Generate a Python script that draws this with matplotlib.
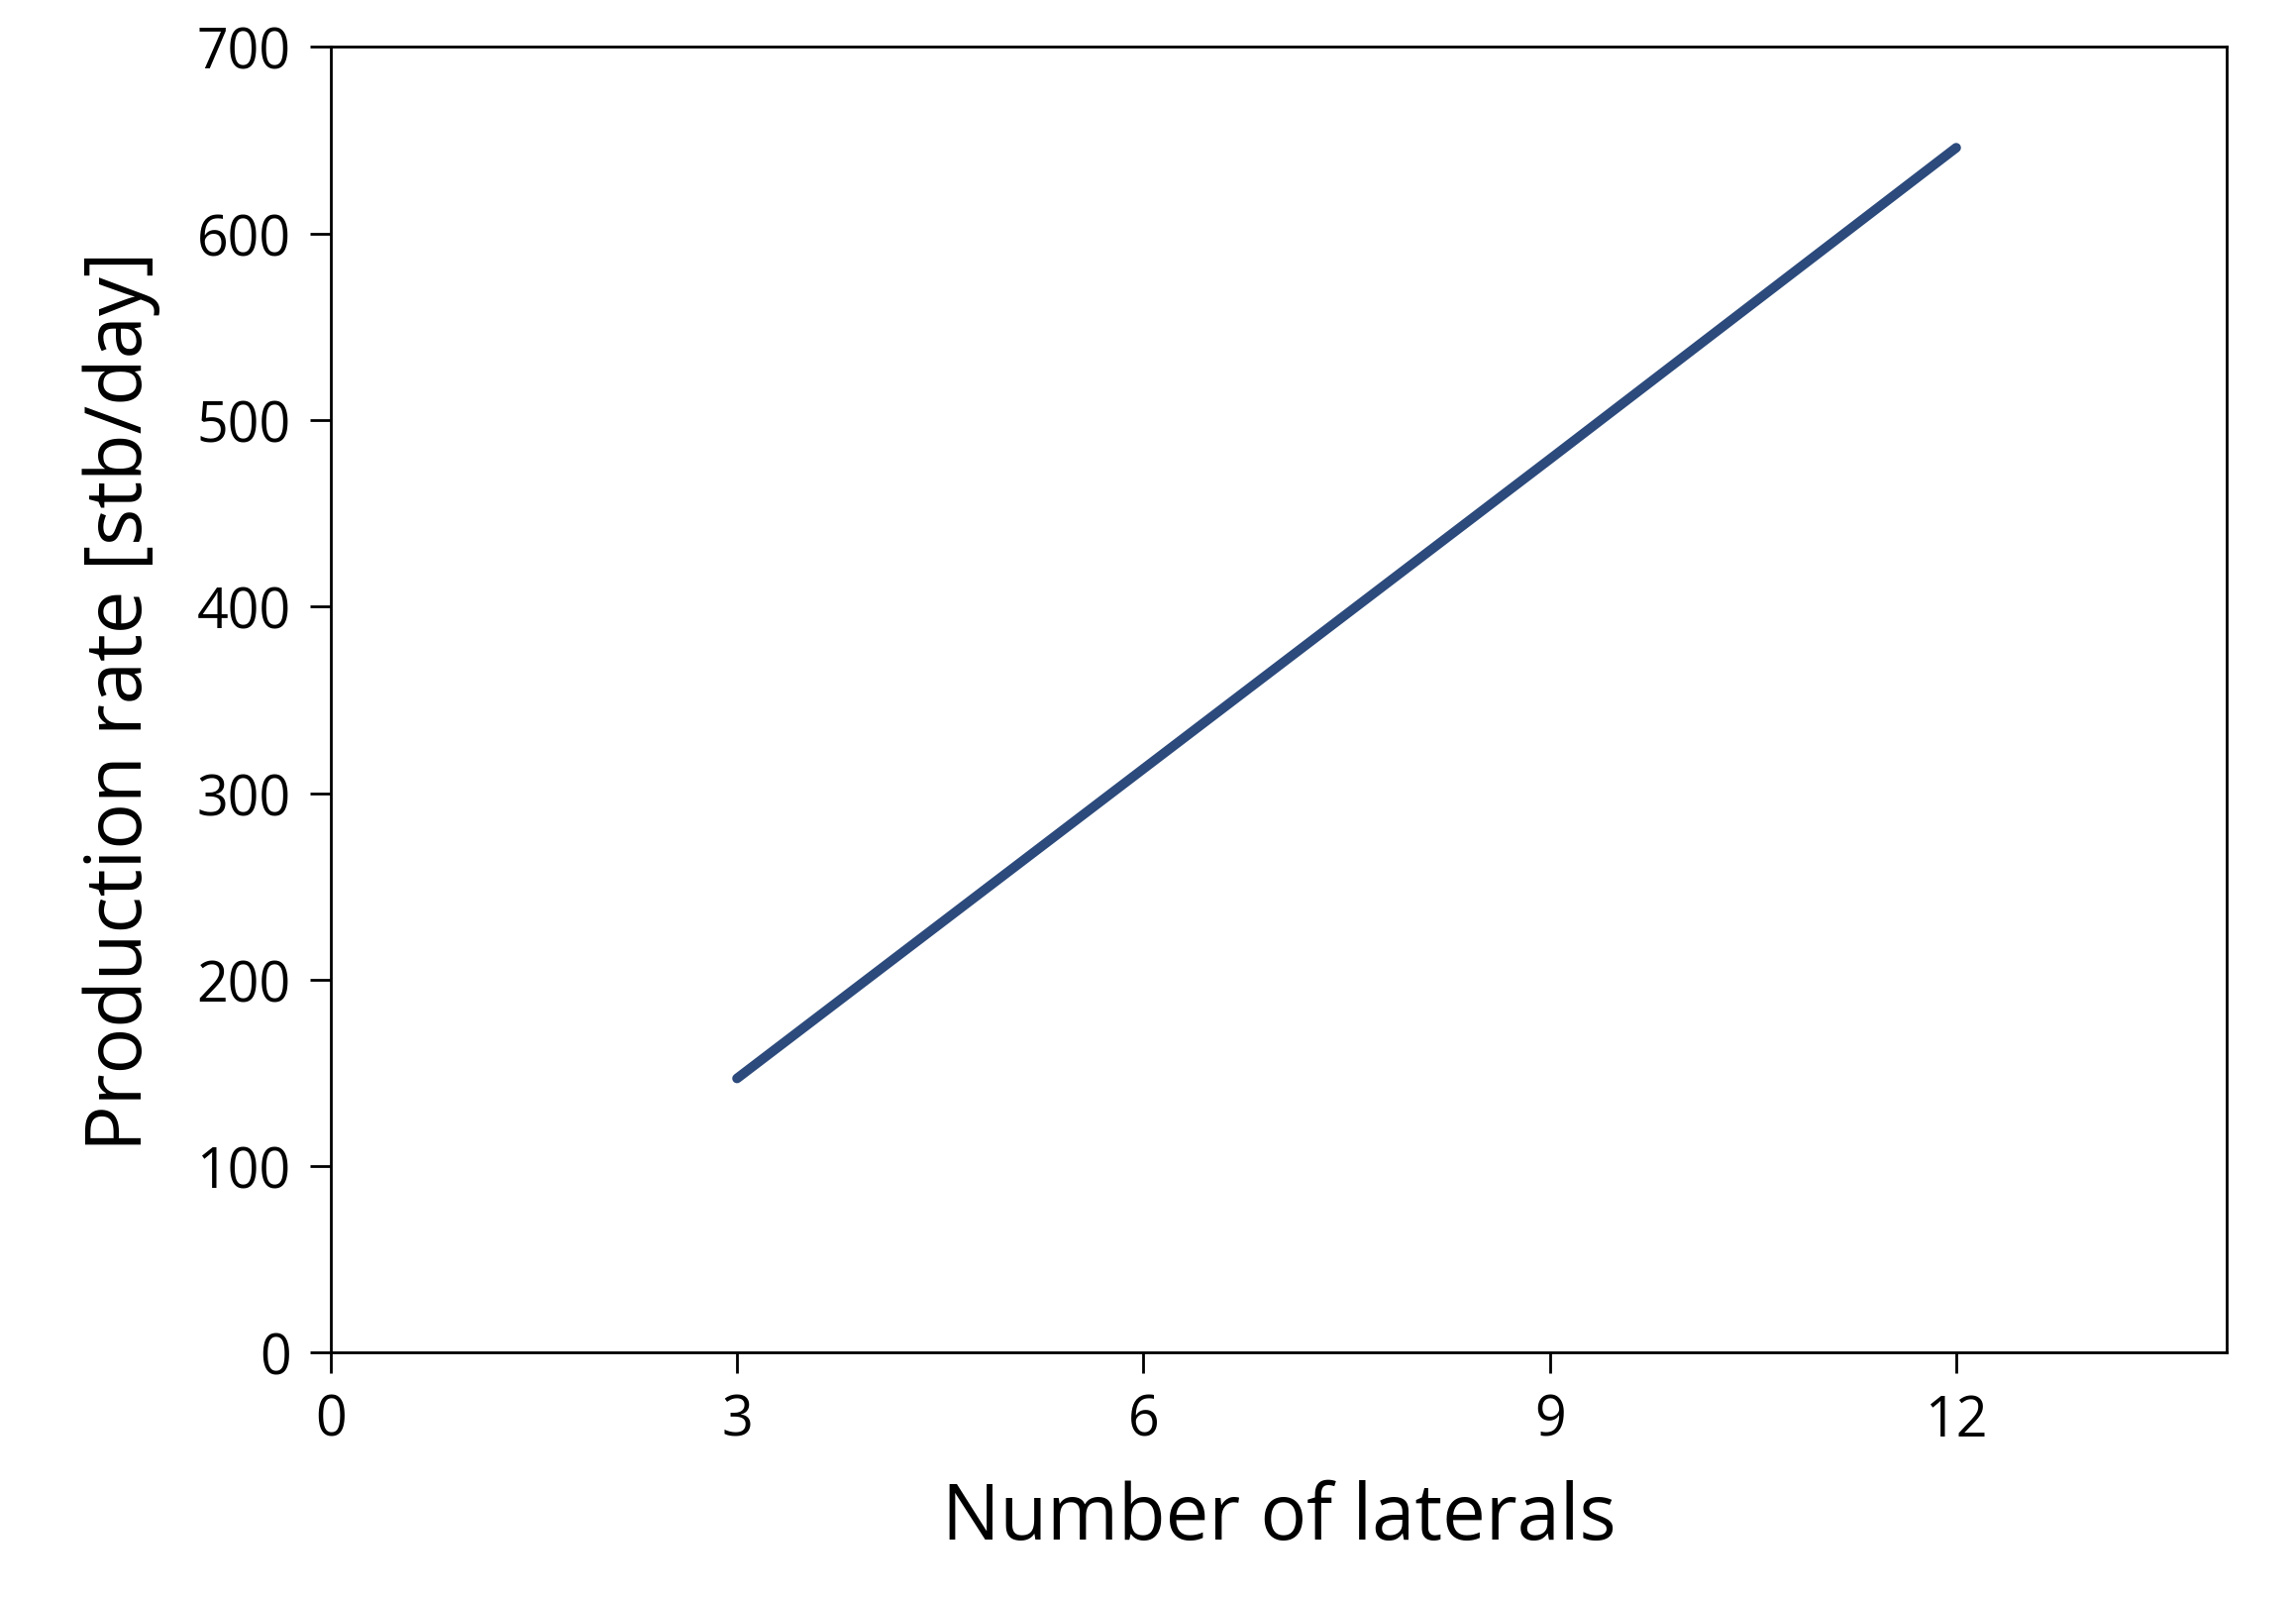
import matplotlib.pyplot as plt

laterals = [3, 6, 9, 12]
rate = [147, 313, 479, 646]

plt.rcParams['font.family'] = ['Open Sans', 'DejaVu Sans']
fig = plt.figure(figsize=(23.18, 16.15), dpi=100)
ax = fig.add_axes([0.144, 0.154, 0.826, 0.816])
ax.plot(laterals, rate, color='#2c4a7c', linewidth=7, solid_capstyle='round')
ax.set_xlim(0, 14)
ax.set_ylim(0, 700)
ax.set_xticks([0, 3, 6, 9, 12])
ax.set_yticks(range(0, 701, 100))
ax.tick_params(labelsize=40, length=15, width=2, direction='out', pad=14)
for s in ax.spines.values():
    s.set_linewidth(2)
ax.set_xlabel('Number of laterals', fontsize=56, labelpad=22)
ax.set_ylabel('Production rate [stb/day]', fontsize=56, labelpad=26)
fig.savefig('out.png')
